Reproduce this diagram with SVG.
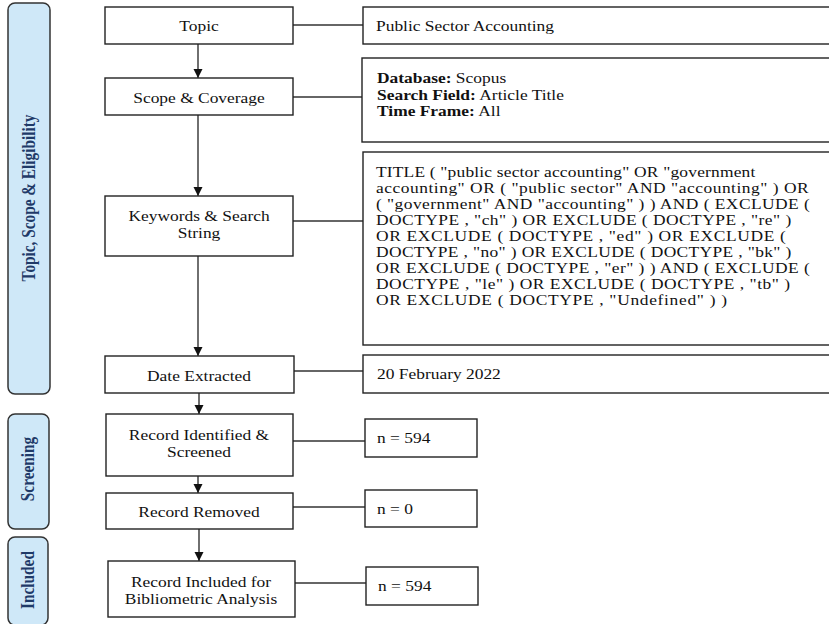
<svg xmlns="http://www.w3.org/2000/svg" width="829" height="624" viewBox="0 0 829 624">
<defs>
<style>
.bg{fill:#ffffff}
.panel{fill:#cfe8f8;stroke:#333333;stroke-width:1.5}
.ptxt{font-family:"Liberation Serif","Times New Roman",serif;font-size:17px;font-weight:bold;fill:#1f3a68}
.box{fill:#ffffff;stroke:#222222;stroke-width:1.4}
.t{font-family:"Liberation Serif","Times New Roman",serif;font-size:16px;fill:#111111}
.c{text-anchor:middle}
.b{font-weight:bold}
.conn{fill:none;stroke:#333333;stroke-width:1.3}
.arr{fill:none;stroke:#222222;stroke-width:1.3;marker-end:url(#ah)}
</style>
<marker id="ah" markerUnits="userSpaceOnUse" markerWidth="10" markerHeight="10" refX="9" refY="4.5" orient="auto">
<path d="M0,0 L9,4.5 L0,9 z" fill="#111111"/>
</marker>
</defs>
<rect class="bg" x="0" y="0" width="829" height="624"/>

<g id="panel-topic">
<rect class="panel" x="8" y="3" width="42" height="391" rx="7"/>
<text class="ptxt c" transform="translate(29,198) rotate(-90) scale(0.9,1.09)" y="5.5">Topic, Scope &amp; Eligibility</text>
</g>
<g id="panel-screening">
<rect class="panel" x="8" y="414" width="41" height="115" rx="7"/>
<text class="ptxt c" transform="translate(28,469) rotate(-90) scale(0.9,1.09)" y="5.5">Screening</text>
</g>
<g id="panel-included">
<rect class="panel" x="8" y="537" width="40" height="88" rx="7"/>
<text class="ptxt c" transform="translate(28,580) rotate(-90) scale(0.9,1.09)" y="5.5">Included</text>
</g>

<g id="connectors">
<line class="arr" x1="198" y1="44" x2="198" y2="78"/>
<line class="arr" x1="198" y1="115" x2="198" y2="196"/>
<line class="arr" x1="198" y1="256" x2="198" y2="356"/>
<line class="arr" x1="199" y1="393" x2="199" y2="414"/>
<line class="arr" x1="198" y1="476" x2="198" y2="493"/>
<line class="arr" x1="199" y1="529" x2="199" y2="561"/>
<line class="conn" x1="293" y1="25" x2="363" y2="25"/>
<line class="conn" x1="293" y1="97" x2="362" y2="97"/>
<line class="conn" x1="293" y1="221" x2="363" y2="221"/>
<line class="conn" x1="294" y1="371" x2="363" y2="371"/>
<line class="conn" x1="293" y1="441" x2="365" y2="441"/>
<line class="conn" x1="293" y1="507" x2="365" y2="507"/>
<line class="conn" x1="295" y1="583" x2="366" y2="583"/>
</g>

<g id="node-topic">
<rect class="box" x="105" y="7" width="188" height="37"/>
<text class="t c" transform="translate(199,31) scale(1.09,0.88)">Topic</text>
</g>
<g id="node-scope">
<rect class="box" x="105" y="78" width="188" height="37"/>
<text class="t c" transform="translate(199,103) scale(1.09,0.88)">Scope &amp; Coverage</text>
</g>
<g id="node-keywords">
<rect class="box" x="105" y="196" width="188" height="60"/>
<text class="t c" transform="translate(199,221) scale(1.09,0.88)">Keywords &amp; Search</text>
<text class="t c" transform="translate(199,238) scale(1.09,0.88)">String</text>
</g>
<g id="node-date">
<rect class="box" x="105" y="356" width="189" height="37"/>
<text class="t c" transform="translate(199,381) scale(1.09,0.88)">Date Extracted</text>
</g>
<g id="node-identified">
<rect class="box" x="106" y="414" width="187" height="62"/>
<text class="t c" transform="translate(199,440) scale(1.09,0.88)">Record Identified &amp;</text>
<text class="t c" transform="translate(199,457) scale(1.09,0.88)">Screened</text>
</g>
<g id="node-removed">
<rect class="box" x="106" y="493" width="187" height="36"/>
<text class="t c" transform="translate(199,517) scale(1.09,0.88)">Record Removed</text>
</g>
<g id="node-included">
<rect class="box" x="108" y="561" width="187" height="56"/>
<text class="t c" transform="translate(201,587) scale(1.09,0.88)">Record Included for</text>
<text class="t c" transform="translate(201,604) scale(1.09,0.88)">Bibliometric Analysis</text>
</g>

<g id="detail-topic">
<rect class="box" x="363" y="7" width="480" height="37"/>
<text class="t" transform="translate(376,31) scale(1.09,0.88)">Public Sector Accounting</text>
</g>
<g id="detail-scope">
<rect class="box" x="362" y="58" width="480" height="84"/>
<text class="t" transform="translate(377,83) scale(1.09,0.88)"><tspan class="b">Database:</tspan> Scopus</text>
<text class="t" transform="translate(377,100) scale(1.09,0.88)"><tspan class="b">Search Field:</tspan>  Article Title</text>
<text class="t" transform="translate(377,116) scale(1.09,0.88)"><tspan class="b">Time Frame:</tspan> All</text>
</g>
<g id="detail-keywords">
<rect class="box" x="363" y="152" width="480" height="193"/>
<text class="t" transform="translate(376,177) scale(1.09,0.88)" textLength="348" lengthAdjust="spacing">TITLE ( "public sector accounting" OR "government</text>
<text class="t" transform="translate(376,193) scale(1.09,0.88)" textLength="397" lengthAdjust="spacing">accounting" OR ( "public sector" AND "accounting" ) OR</text>
<text class="t" transform="translate(376,209) scale(1.09,0.88)" textLength="398" lengthAdjust="spacing">( "government" AND "accounting" ) ) AND ( EXCLUDE (</text>
<text class="t" transform="translate(376,225) scale(1.09,0.88)" textLength="381" lengthAdjust="spacing">DOCTYPE , "ch" ) OR EXCLUDE ( DOCTYPE , "re" )</text>
<text class="t" transform="translate(376,241) scale(1.09,0.88)" textLength="376" lengthAdjust="spacing">OR EXCLUDE ( DOCTYPE , "ed" ) OR EXCLUDE (</text>
<text class="t" transform="translate(376,257) scale(1.09,0.88)" textLength="381" lengthAdjust="spacing">DOCTYPE , "no" ) OR EXCLUDE ( DOCTYPE , "bk" )</text>
<text class="t" transform="translate(376,273) scale(1.09,0.88)" textLength="398" lengthAdjust="spacing">OR EXCLUDE ( DOCTYPE , "er" ) ) AND ( EXCLUDE (</text>
<text class="t" transform="translate(376,289) scale(1.09,0.88)" textLength="380" lengthAdjust="spacing">DOCTYPE , "le" ) OR EXCLUDE ( DOCTYPE , "tb" )</text>
<text class="t" transform="translate(376,305) scale(1.09,0.88)" textLength="322" lengthAdjust="spacing">OR EXCLUDE ( DOCTYPE , "Undefined" ) )</text>
</g>
<g id="detail-date">
<rect class="box" x="363" y="355" width="480" height="38"/>
<text class="t" transform="translate(377,379) scale(1.09,0.88)">20 February 2022</text>
</g>
<g id="detail-identified">
<rect class="box" x="365" y="419" width="112" height="38"/>
<text class="t" transform="translate(377,443) scale(1.09,0.88)">n = 594</text>
</g>
<g id="detail-removed">
<rect class="box" x="365" y="490" width="112" height="37"/>
<text class="t" transform="translate(377,514) scale(1.09,0.88)">n = 0</text>
</g>
<g id="detail-included">
<rect class="box" x="366" y="567" width="112" height="38"/>
<text class="t" transform="translate(378,591) scale(1.09,0.88)">n = 594</text>
</g>
</svg>
